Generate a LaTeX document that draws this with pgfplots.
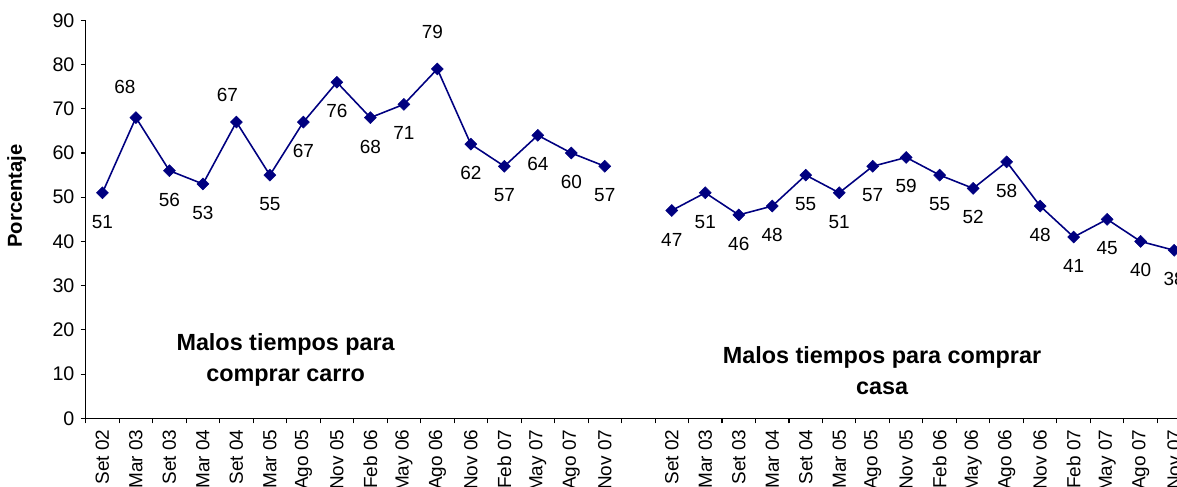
\documentclass[border=0pt]{standalone}
\usepackage{pgfplots}
\pgfplotsset{compat=1.18}
\usepackage{pgfplotstable}
\usepackage{fontspec}
\setmainfont{Liberation Sans}
\definecolor{serie}{HTML}{000080}

% x = category slot centre, y = percentage, dx/dy = label offset (in 0.02cm units)
\pgfplotstableread{
x    y   dx   dy
0.5  51   0  -29
1.5  68  -11  31
2.5  56   0  -29
3.5  53   0  -29
4.5  67  -9   27
5.5  55   0  -29
6.5  67   0  -29
7.5  76   0  -29
8.5  68   0  -29
9.5  71   0  -29
10.5 79  -5   37
11.5 62   0  -29
12.5 57   0  -29
13.5 64   0  -29
14.5 60   0  -29
15.5 57   0  -29
}\carro

\pgfplotstableread{
x    y   dx   dy
17.5 47   0  -29
18.5 51   0  -29
19.5 46   0  -29
20.5 48   0  -29
21.5 55   0  -29
22.5 51   0  -29
23.5 57   0  -29
24.5 59   0  -29
25.5 55   0  -29
26.5 52   0  -29
27.5 58   0  -29
28.5 48   0  -29
29.5 41   0  -29
30.5 45   0  -29
31.5 40   0  -29
32.5 38   0  -29
}\casa

\pgfplotsset{
  serieplot/.style={
    color=serie, line width=0.9pt,
    mark=square*, mark size=2.4pt,
    mark options={rotate=45, fill=serie, draw=serie, line width=0.3pt, solid},
    visualization depends on={\thisrow{dx} \as \ldx},
    visualization depends on={\thisrow{dy} \as \ldy},
    nodes near coords,
    point meta=y,
    every node near coord/.append style={
      anchor=center, text=black,
      font=\fontsize{10.8}{12}\selectfont,
      xshift=\ldx*0.02cm, yshift=\ldy*0.02cm},
  },
}

\begin{document}
\begin{tikzpicture}
\begin{axis}[
  x=0.6698cm, y=0.08844cm,
  xmin=0, xmax=33, ymin=0, ymax=90,
  axis x line*=bottom, axis y line*=left,
  axis line style={black, line width=0.6pt},
  clip=false,
  tick align=outside,
  major tick length=2.9pt,
  tick style={black, line width=0.6pt},
  ytick={0,10,...,90},
  xtick={0,...,33},
  x tick label as interval,
  xticklabels={Set 02,Mar 03,Set 03,Mar 04,Set 04,Mar 05,Ago 05,Nov 05,Feb 06,May 06,Ago 06,Nov 06,Feb 07,May 07,Ago 07,Nov 07,{},
               Set 02,Mar 03,Set 03,Mar 04,Set 04,Mar 05,Ago 05,Nov 05,Feb 06,May 06,Ago 06,Nov 06,Feb 07,May 07,Ago 07,Nov 07},
  xticklabel style={rotate=90, anchor=east, font=\fontsize{10.8}{12}\selectfont},
  yticklabel style={font=\fontsize{11.2}{13}\selectfont},
  /pgf/number format/assume math mode=true,
]
\addplot[serieplot] table[x=x, y=y] {\carro};
\addplot[serieplot] table[x=x, y=y] {\casa};

\node[rotate=90, font=\bfseries\fontsize{11.5}{13}\selectfont] at (axis cs:-2.06,50.3) {Porcentaje};
\node[align=center, font=\bfseries\fontsize{13.3}{17.6}\selectfont] at (axis cs:5.97,13.3) {Malos tiempos para\\comprar carro};
\node[align=center, font=\bfseries\fontsize{13.3}{17.6}\selectfont] at (axis cs:23.78,10.7) {Malos tiempos para comprar\\casa};

\coordinate (bbsw) at (axis cs:-2.559,-15.31);
\coordinate (bbne) at (axis cs:32.586,94.6);
\end{axis}
\pgfresetboundingbox
\path[use as bounding box] (bbsw) rectangle (bbne);
\end{tikzpicture}
\end{document}
